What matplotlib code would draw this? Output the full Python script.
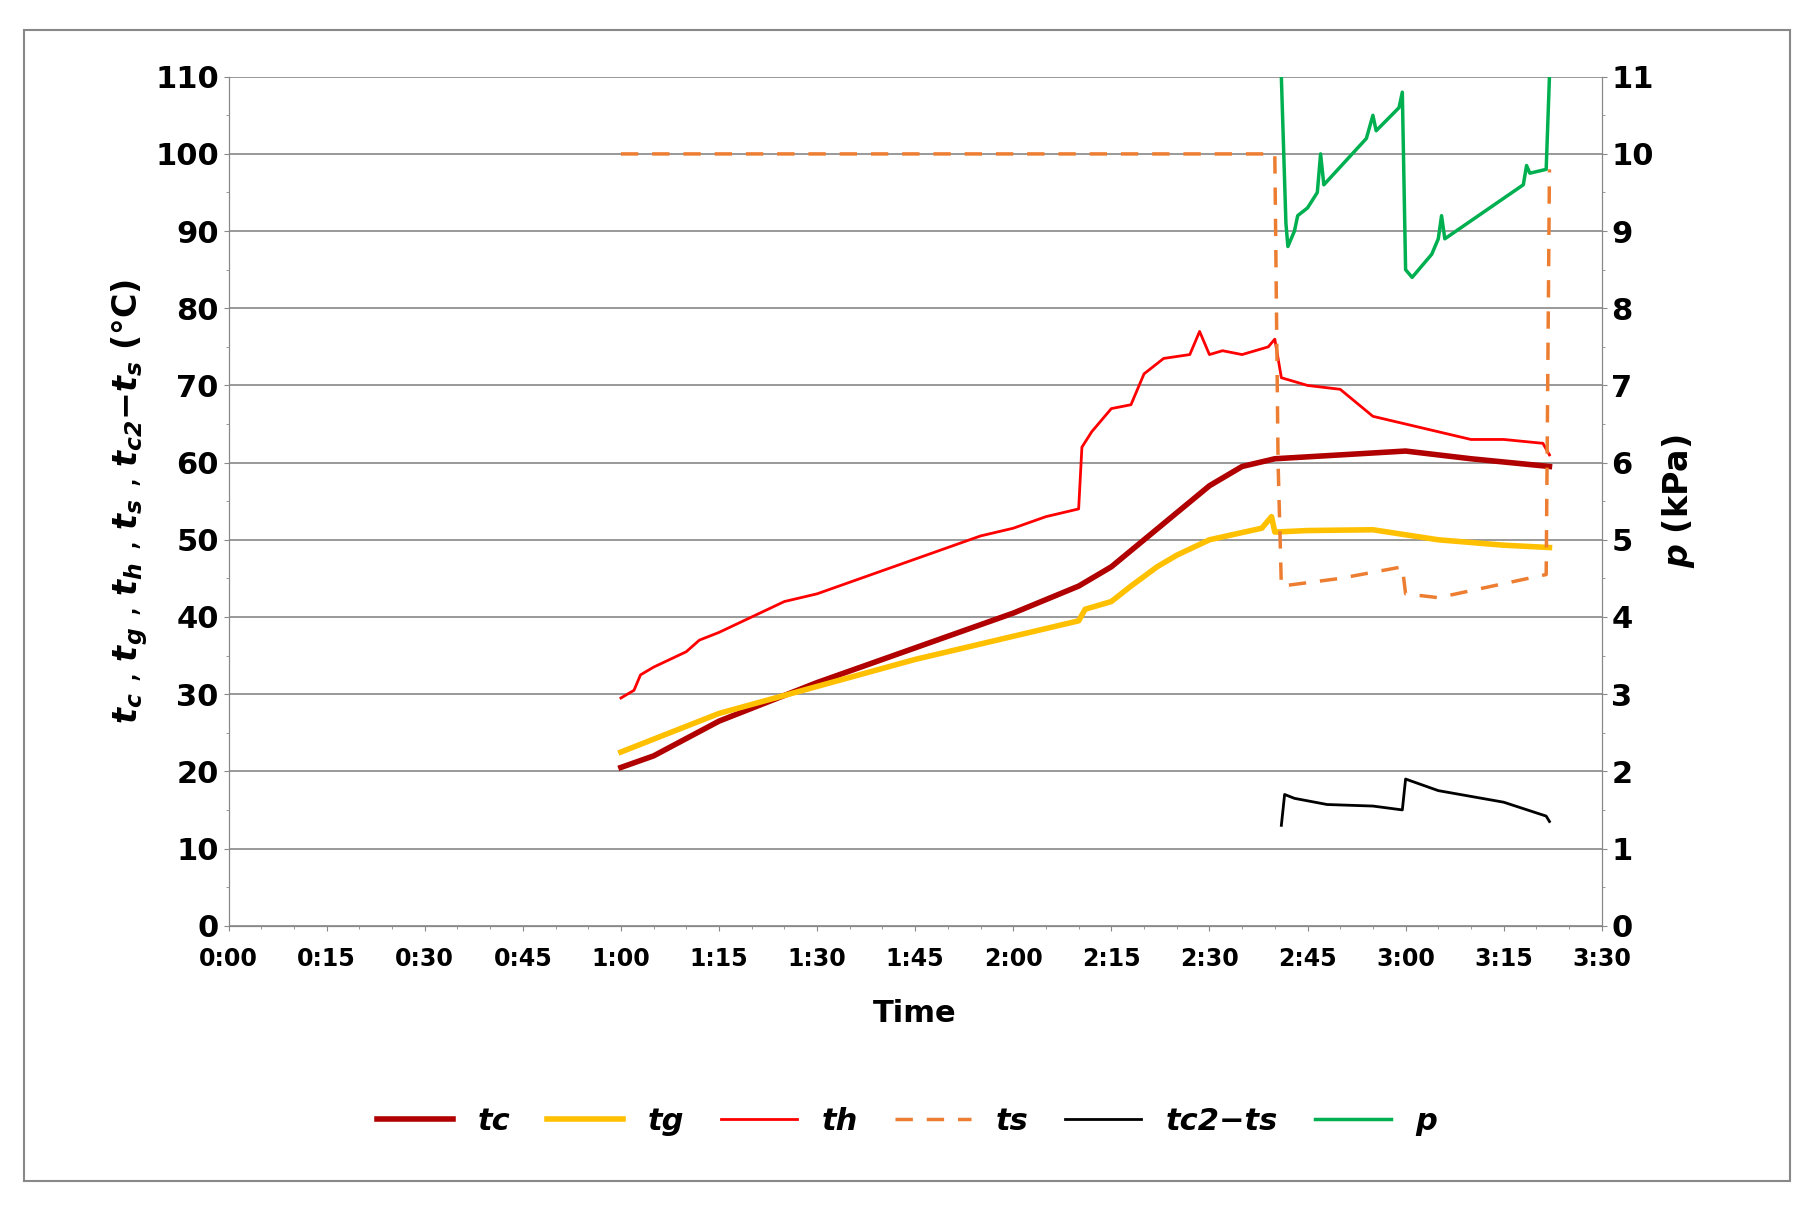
import matplotlib.pyplot as plt
from matplotlib.patches import Rectangle
from matplotlib.ticker import MultipleLocator, FuncFormatter

# time in minutes from 0:00
tc_t = [60, 65, 75, 90, 105, 120, 130, 135, 140, 145, 150, 155, 160, 170, 180, 190, 202]
tc_v = [20.5, 22, 26.5, 31.5, 36, 40.5, 44, 46.5, 50, 53.5, 57, 59.5, 60.5, 61, 61.5, 60.5, 59.5]

tg_t = [60, 75, 90, 105, 120, 130, 131, 135, 138, 142, 145, 150, 158, 159.5, 160, 165, 175, 185, 195, 202]
tg_v = [22.5, 27.5, 31, 34.5, 37.5, 39.5, 41, 42, 44, 46.5, 48, 50, 51.5, 53, 51, 51.2, 51.3, 50, 49.3, 49]

th_t = [60, 62, 63, 65, 70, 72, 75, 80, 85, 90, 95, 100, 105, 110, 115, 120, 125, 130, 130.5, 132,
        135, 138, 140, 143, 147, 148.5, 150, 152, 155, 159, 160, 161, 165, 167, 170, 175, 180,
        185, 190, 195, 201, 202]
th_v = [29.5, 30.5, 32.5, 33.5, 35.5, 37, 38, 40, 42, 43, 44.5, 46, 47.5, 49, 50.5, 51.5, 53, 54, 62, 64,
        67, 67.5, 71.5, 73.5, 74, 77, 74, 74.5, 74, 75, 76, 71, 70, 69.8, 69.5, 66, 65,
        64, 63, 63, 62.5, 61]

ts_t = [60, 160, 160.5, 161, 170, 179.5, 180, 185, 201.5, 202]
ts_v = [100, 100, 60, 44, 45, 46.5, 43, 42.5, 45.5, 98]

d_t = [161, 161.5, 163, 168, 175, 179.5, 180, 185, 195, 201.5, 202]
d_v = [13, 17, 16.5, 15.7, 15.5, 15, 19, 17.5, 16, 14.2, 13.5]

p_t = [161, 161.7, 162, 163, 163.5, 165, 166.5, 167, 167.5, 174, 175, 175.5, 179, 179.5, 180,
       181, 184, 185, 185.5, 186, 198, 198.5, 199, 201.5, 202]
p_v = [11, 9.1, 8.8, 9.0, 9.2, 9.3, 9.5, 10, 9.6, 10.2, 10.5, 10.3, 10.6, 10.8, 8.5,
       8.4, 8.7, 8.9, 9.2, 8.9, 9.6, 9.85, 9.75, 9.8, 11]

plt.rcParams['font.family'] = ['DejaVu Sans']
fig = plt.figure(figsize=(18.14, 12.18), dpi=100)
fig.patches.append(Rectangle((0.013, 0.03), 0.974, 0.945, transform=fig.transFigure,
                             fill=False, edgecolor='#888888', lw=1.5))
ax = fig.add_axes([0.126, 0.24, 0.757, 0.697])
ax2 = ax.twinx()

l1, = ax.plot(tc_t, tc_v, color='#b00000', lw=4, label='tc')
l2, = ax.plot(tg_t, tg_v, color='#ffc000', lw=4, label='tg')
l3, = ax.plot(th_t, th_v, color='#ff0000', lw=2, label='th')
l4, = ax.plot(ts_t, ts_v, color='#ed7d31', lw=2.5, ls=(0, (5, 4)), label='ts')
l5, = ax.plot(d_t, d_v, color='black', lw=2, label='tc2\u2212ts')
l6, = ax2.plot(p_t, p_v, color='#00b050', lw=2.5, label='p')

ax.set_xlim(0, 210)
ax.set_ylim(0, 110)
ax2.set_ylim(0, 11)
ax.xaxis.set_major_locator(MultipleLocator(15))
ax.xaxis.set_minor_locator(MultipleLocator(5))
ax.xaxis.set_major_formatter(FuncFormatter(lambda v, p: f"{int(v)//60}:{int(v)%60:02d}"))
ax.yaxis.set_major_locator(MultipleLocator(10))
ax.yaxis.set_minor_locator(MultipleLocator(5))
ax2.yaxis.set_major_locator(MultipleLocator(1))
ax2.yaxis.set_minor_locator(MultipleLocator(0.5))
ax.grid(axis='y', which='major', color='#888888', lw=1.2)
for a in (ax, ax2):
    a.spines['top'].set_visible(False)
    for s in ('left', 'right', 'bottom'):
        a.spines[s].set_color('#888888')
    a.tick_params(which='both', color='#888888', labelsize=22)
    for lab in a.get_yticklabels():
        lab.set_fontweight('bold')
ax.tick_params(axis='x', labelsize=17, pad=12)
for lab in ax.get_xticklabels():
    lab.set_fontweight('bold')
ax.set_xlabel('Time', fontsize=22, fontweight='bold', labelpad=20)
ax.set_ylabel(r'$\mathbfit{t_c}$ , $\mathbfit{t_g}$ , $\mathbfit{t_h}$ , $\mathbfit{t_s}$ , $\mathbfit{t_{c2}}$$\mathbf{-}$$\mathbfit{t_s}$ $\mathbf{(°C)}$',
              fontsize=24)
ax2.set_ylabel(r'$\mathbfit{p}$ $\mathbf{(kPa)}$', fontsize=24)

fig.legend(handles=[l1, l2, l3, l4, l5, l6], loc='lower center', ncol=6,
           bbox_to_anchor=(0.5, 0.045), frameon=False, handlelength=2.5,
           columnspacing=1.2, prop={'size': 22, 'weight': 'bold', 'style': 'italic'})
fig.savefig('out.png', dpi=100)
